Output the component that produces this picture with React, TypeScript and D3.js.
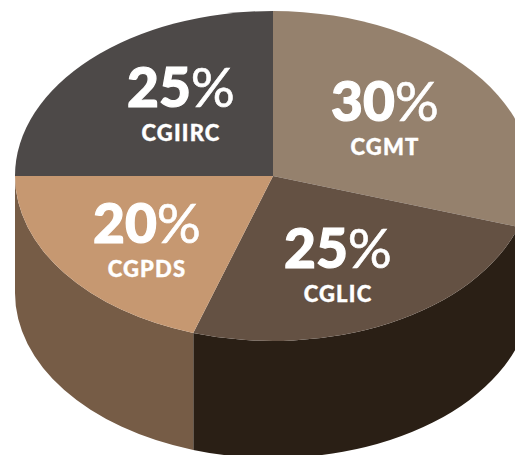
import React from 'react';
import * as d3 from 'd3';

const width = 515;
const height = 455;

// slices, clockwise from the top
const categories = ['CGMT', 'CGLIC', 'CGPDS', 'CGIIRC'];
const shares = [30, 25, 20, 25];

const topColors = ['#95816d', '#645143', '#c69871', '#4d4948'];
const wallColors = ['#2a1f15', '#2a1f15', '#765c46', '#765c46'];

// disc geometry
const cx = 273;
const cy = 176;
const rx = 258;
const ry = 165;
const depth = 117;

// label anchor of each slice (x centre, baseline of the big number)
const labelAnchors: [number, number][] = [
  [385, 121],
  [338, 268],
  [147, 243],
  [181, 107],
];

const bigFont = 55;
const smallFont = 22;

const pie = d3.pie<number>().value((d) => d).sort(null);
const arcs = pie(shares);
const arcGen = d3.arc<d3.PieArcDatum<number>>().innerRadius(0).outerRadius(rx);

const px = (a: number) => rx * Math.sin(a);
const py = (a: number) => -ry * Math.cos(a);

// side of the disc for one slice, only the part facing the viewer
const wallPath = (start: number, end: number) => {
  const a0 = Math.max(start, Math.PI / 2);
  const a1 = Math.min(end, (3 * Math.PI) / 2);
  if (a1 <= a0) return '';
  return (
    `M${px(a0)},${py(a0)} ` +
    `A${rx},${ry} 0 0 1 ${px(a1)},${py(a1)} ` +
    `L${px(a1)},${py(a1) + depth} ` +
    `A${rx},${ry} 0 0 0 ${px(a0)},${py(a0) + depth} Z`
  );
};

export default function App() {
  const font = 'Lato, sans-serif';
  return (
    <svg
      width={width}
      height={height}
      viewBox={`0 0 ${width} ${height}`}
      style={{ position: 'absolute', left: 0, top: 0, display: 'block', background: '#fff' }}
    >
      <g transform={`translate(${cx},${cy})`}>
        {arcs.map((d, i) => (
          <path key={'wall' + i} d={wallPath(d.startAngle, d.endAngle)} fill={wallColors[i]} />
        ))}
        <g transform={`scale(1,${ry / rx})`}>
          {arcs.map((d, i) => (
            <path key={'top' + i} d={arcGen(d) as string} fill={topColors[i]} />
          ))}
        </g>
      </g>
      {arcs.map((d, i) => {
        const [x, y] = labelAnchors[i];
        return (
          <g key={categories[i]} fill="#fff" stroke="#fff" textAnchor="middle" fontFamily={font}>
            <text x={x} y={y} fontSize={bigFont} fontWeight={900} strokeWidth={1.2}>
              {d.data}
              <tspan fontWeight={400} strokeWidth={0.6}>%</tspan>
            </text>
            <text x={x} y={y + 34} fontSize={smallFont} fontWeight={900} strokeWidth={0.4} letterSpacing={1.2}>
              {categories[i]}
            </text>
          </g>
        );
      })}
    </svg>
  );
}
